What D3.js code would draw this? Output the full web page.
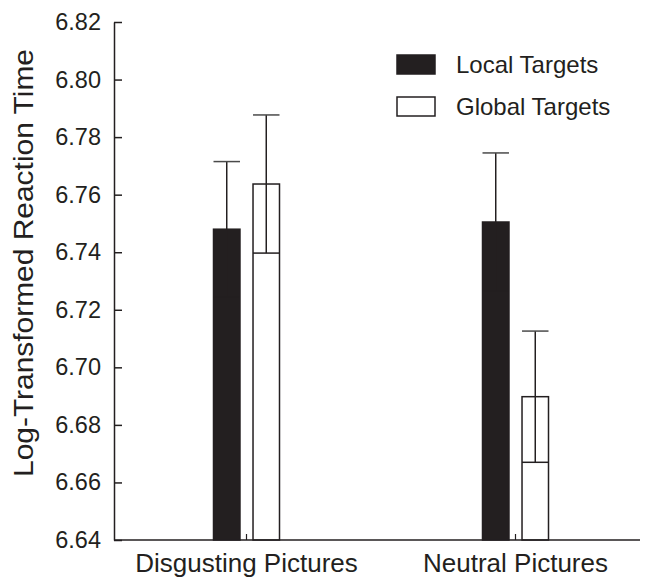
<!DOCTYPE html>
<html>
<head>
<meta charset="utf-8">
<script src="https://cdn.jsdelivr.net/npm/d3@7"></script>
<style>
  body { margin: 0; background: #fff; }
  text { font-family: "Liberation Sans", Arial, sans-serif; fill: #231f20; }
</style>
</head>
<body>
<div id="chart"></div>
<script>
// data
var categories = ['Disgusting Pictures', 'Neutral Pictures']
var targets = ['Local Targets', 'Global Targets']
var localMeans = [6.748, 6.7505]
var localErr = [0.0235, 0.024]
var globalMeans = [6.7637, 6.6898]
var globalErr = [0.024, 0.0228]
var yTicks = [6.64, 6.66, 6.68, 6.70, 6.72, 6.74, 6.76, 6.78, 6.80, 6.82]

var width = 646, height = 580
var margin = {top:22, left:114, right:6, bottom:40}
var ink = '#231f20'

var rows = []
categories.forEach((c,i)=>{
    rows.push({cat:c, target:targets[0], mean:localMeans[i], err:localErr[i]})
    rows.push({cat:c, target:targets[1], mean:globalMeans[i], err:globalErr[i]})
})

var svg = d3.select('#chart').append('svg')
    .attr('width', width)
    .attr('height', height)

var y = d3.scaleLinear()
    .domain([6.64, 6.82])
    .range([height - margin.bottom, margin.top])

var x0 = d3.scaleBand()
    .domain(categories)
    .range([112, 650])

var x1 = d3.scaleBand()
    .domain(targets)
    .range([-33, 33])
    .paddingInner(0.33)

var fillScale = d3.scaleOrdinal().domain(targets).range([ink, '#fff'])

//bars
svg.append('g').selectAll('rect')
    .data(rows)
    .enter().append('rect')
    .attr('x', d=> x0(d.cat) + x0.bandwidth()/2 + x1(d.target))
    .attr('y', d=> y(d.mean))
    .attr('width', x1.bandwidth())
    .attr('height', d=> y(6.64) - y(d.mean))
    .attr('fill', d=> fillScale(d.target))
    .attr('stroke', ink)
    .attr('stroke-width', 1.5)

//error bars (drawn on top so the lower half shows inside the white bars)
var eb = svg.append('g').selectAll('g')
    .data(rows)
    .enter().append('g')
    .attr('stroke', ink)
    .attr('stroke-width', 1.5)

eb.append('line')
    .attr('x1', d=> x0(d.cat) + x0.bandwidth()/2 + x1(d.target) + x1.bandwidth()/2)
    .attr('x2', d=> x0(d.cat) + x0.bandwidth()/2 + x1(d.target) + x1.bandwidth()/2)
    .attr('y1', d=> y(d.mean - d.err))
    .attr('y2', d=> y(d.mean + d.err))

eb.append('line')
    .attr('x1', d=> x0(d.cat) + x0.bandwidth()/2 + x1(d.target))
    .attr('x2', d=> x0(d.cat) + x0.bandwidth()/2 + x1(d.target) + x1.bandwidth())
    .attr('y1', d=> y(d.mean + d.err))
    .attr('y2', d=> y(d.mean + d.err))
    .attr('stroke', '#4a4a4a')

eb.append('line')
    .attr('x1', d=> x0(d.cat) + x0.bandwidth()/2 + x1(d.target))
    .attr('x2', d=> x0(d.cat) + x0.bandwidth()/2 + x1(d.target) + x1.bandwidth())
    .attr('y1', d=> y(d.mean - d.err))
    .attr('y2', d=> y(d.mean - d.err))

//y axis, ticks pointing inward
var yAxis = d3.axisLeft(y)
    .tickValues(yTicks)
    .tickFormat(d3.format('.2f'))
    .tickSizeInner(-8)
    .tickSizeOuter(0)
    .tickPadding(13)

var yg = svg.append('g')
    .attr('transform', `translate(${margin.left},0)`)
    .call(yAxis)
yg.select('.domain').attr('stroke', ink).attr('stroke-width', 1.5)
yg.selectAll('.tick line').attr('stroke', ink).attr('stroke-width', 1.5)
yg.selectAll('.tick text')
    .attr('font-size', 23.5)
    .attr('font-family', '"Liberation Sans", Arial, sans-serif')
    .attr('fill', ink)

//x axis
var xAxis = d3.axisBottom(x0)
    .tickSizeInner(-6)
    .tickSizeOuter(0)
    .tickPadding(12)

var xg = svg.append('g')
    .attr('transform', `translate(0,${y(6.64)})`)
    .call(xAxis)
xg.select('.domain').remove()
xg.append('line')
    .attr('x1', margin.left)
    .attr('x2', width - margin.right)
    .attr('stroke', ink)
    .attr('stroke-width', 1.5)
xg.selectAll('.tick line').attr('stroke', ink).attr('stroke-width', 1.2)
xg.selectAll('.tick text')
    .attr('font-size', 26)
    .attr('font-family', '"Liberation Sans", Arial, sans-serif')
    .attr('fill', ink)
    .attr('dy', '0.75em')

//y axis title, stretched along its length like the original
svg.append('text')
    .attr('transform', `translate(33,263) rotate(-90)`)
    .attr('text-anchor', 'middle')
    .attr('font-size', 27)
    .attr('textLength', 428)
    .attr('lengthAdjust', 'spacingAndGlyphs')
    .text('Log-Transformed Reaction Time')

//legend
var legend = svg.append('g').selectAll('g')
    .data(targets)
    .enter().append('g')
    .attr('transform', (d,i)=> `translate(397,${55 + i*42})`)

legend.append('rect')
    .attr('width', 38)
    .attr('height', 19)
    .attr('fill', d=> fillScale(d))
    .attr('stroke', ink)
    .attr('stroke-width', 1.5)

legend.append('text')
    .attr('x', 59)
    .attr('y', 18)
    .attr('font-size', 24)
    .text(d=> d)
</script>
</body>
</html>
